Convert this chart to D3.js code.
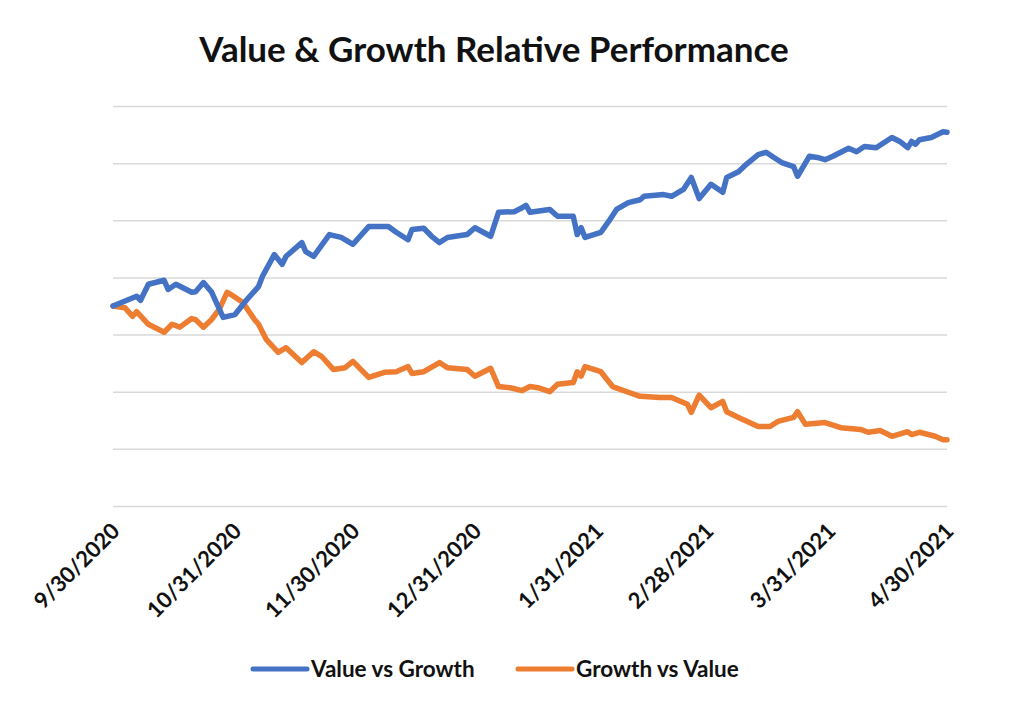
<!DOCTYPE html>
<html><head><meta charset="utf-8">
<script src="https://cdn.jsdelivr.net/npm/d3@7/dist/d3.min.js"></script>
<style>body{margin:0;background:#fff}svg{display:block}</style>
</head><body><svg id="c" width="1024" height="717"></svg>
<script>
const title = "Value & Growth Relative Performance";
const seriesNames = ["Value vs Growth", "Growth vs Value"];
const colors = ["#4472C4", "#ED7D31"];
const tickDates = ["2020-09-30","2020-10-31","2020-11-30","2020-12-31","2021-01-31","2021-02-28","2021-03-31","2021-04-30"];
const tickLabels = ["9/30/2020","10/31/2020","11/30/2020","12/31/2020","1/31/2021","2/28/2021","3/31/2021","4/30/2021"];
const gridValues = [65,75,85,95,105,115,125,135];

const valueDates = ["2020-09-30","2020-10-06","2020-10-07","2020-10-09","2020-10-13","2020-10-14","2020-10-16","2020-10-20","2020-10-21","2020-10-23","2020-10-25","2020-10-28","2020-10-31","2020-11-03","2020-11-06","2020-11-07","2020-11-10","2020-11-12","2020-11-13","2020-11-17","2020-11-18","2020-11-20","2020-11-24","2020-11-27","2020-11-30","2020-12-04","2020-12-09","2020-12-11","2020-12-14","2020-12-15","2020-12-18","2020-12-20","2020-12-22","2020-12-24","2020-12-29","2020-12-31","2021-01-04","2021-01-06","2021-01-10","2021-01-12","2021-01-13","2021-01-14","2021-01-19","2021-01-21","2021-01-25","2021-01-26","2021-01-27","2021-01-28","2021-02-01","2021-02-03","2021-02-05","2021-02-08","2021-02-11","2021-02-12","2021-02-17","2021-02-19","2021-02-22","2021-02-24","2021-02-26","2021-03-01","2021-03-04","2021-03-05","2021-03-08","2021-03-10","2021-03-13","2021-03-15","2021-03-17","2021-03-19","2021-03-22","2021-03-23","2021-03-26","2021-03-28","2021-03-30","2021-04-01","2021-04-05","2021-04-07","2021-04-09","2021-04-12","2021-04-16","2021-04-18","2021-04-20","2021-04-21","2021-04-22","2021-04-23","2021-04-26","2021-04-29","2021-04-30"];
const valueVsGrowth = [100.0,101.7,101.0,103.8,104.5,102.9,103.8,102.4,102.5,104.1,102.5,98.0,98.5,101.1,103.4,105.2,109.0,107.3,108.7,111.1,109.5,108.7,112.5,112.0,110.8,113.9,113.9,112.9,111.6,113.4,113.6,112.2,111.1,112.0,112.5,113.7,112.2,116.4,116.5,117.2,117.6,116.4,116.9,115.7,115.7,112.5,113.7,112.0,112.9,114.8,116.9,118.1,118.6,119.2,119.5,119.2,120.4,122.5,118.8,121.3,119.9,122.5,123.5,124.8,126.5,126.9,126.0,125.1,124.4,122.7,126.2,126.0,125.6,126.2,127.6,127.0,127.9,127.7,129.5,128.8,127.7,128.8,128.3,129.1,129.5,130.5,130.4];

const growthDates = ["2020-09-30","2020-10-03","2020-10-05","2020-10-06","2020-10-09","2020-10-13","2020-10-15","2020-10-17","2020-10-20","2020-10-21","2020-10-23","2020-10-25","2020-10-27","2020-10-29","2020-10-30","2020-11-02","2020-11-05","2020-11-06","2020-11-08","2020-11-11","2020-11-13","2020-11-17","2020-11-20","2020-11-22","2020-11-25","2020-11-28","2020-11-30","2020-12-04","2020-12-08","2020-12-11","2020-12-14","2020-12-15","2020-12-18","2020-12-22","2020-12-24","2020-12-29","2020-12-31","2021-01-04","2021-01-06","2021-01-09","2021-01-12","2021-01-14","2021-01-16","2021-01-19","2021-01-21","2021-01-25","2021-01-26","2021-01-27","2021-01-28","2021-02-01","2021-02-04","2021-02-08","2021-02-11","2021-02-16","2021-02-19","2021-02-23","2021-02-24","2021-02-26","2021-03-01","2021-03-04","2021-03-05","2021-03-08","2021-03-13","2021-03-16","2021-03-18","2021-03-22","2021-03-23","2021-03-25","2021-03-30","2021-04-03","2021-04-08","2021-04-10","2021-04-13","2021-04-16","2021-04-20","2021-04-21","2021-04-23","2021-04-27","2021-04-29","2021-04-30"];
const growthVsValue = [100.0,99.7,98.2,99.0,96.8,95.4,96.8,96.3,97.8,97.6,96.3,97.6,99.4,102.4,102.0,100.6,97.6,96.8,94.1,91.9,92.7,90.1,92.0,91.2,88.9,89.2,90.3,87.5,88.4,88.5,89.4,88.2,88.5,90.1,89.2,88.9,87.7,89.1,85.9,85.7,85.2,85.9,85.7,85.0,86.3,86.6,88.5,87.7,89.4,88.5,85.9,84.9,84.2,84.0,84.0,82.8,81.4,84.4,82.2,83.3,81.5,80.5,78.9,78.9,79.8,80.5,81.5,79.3,79.6,78.7,78.4,77.9,78.2,77.2,78.0,77.5,77.9,77.2,76.6,76.6];

const parse = d3.timeParse("%Y-%m-%d");
const svg = d3.select("#c");
const font = "Lato, 'Open Sans', sans-serif";
const plotL = 113, plotR = 947, plotT = 106, plotB = 506;

const x = d3.scaleTime().domain([parse(tickDates[0]), parse(tickDates[tickDates.length-1])]).range([plotL, plotR]);
const y = d3.scaleLinear().domain([65, 135]).range([plotB, plotT]);

svg.append("text").attr("x", 494).attr("y", 62).attr("text-anchor", "middle")
  .attr("font-family", font).attr("font-weight", "bold").attr("font-size", 35).attr("fill", "#111")
  .text(title);

// gridlines
svg.append("g").attr("transform", `translate(${plotL},0)`)
  .call(d3.axisLeft(y).tickValues(gridValues).tickSize(-(plotR - plotL)).tickFormat(""))
  .call(g => g.select(".domain").remove())
  .call(g => g.selectAll("line").attr("stroke", "#d9d9d9").attr("stroke-width", 1.5));

// x axis labels
const xa = svg.append("g").attr("transform", `translate(0,${plotB})`)
  .call(d3.axisBottom(x).tickValues(tickDates.map(parse)).tickSize(0).tickFormat((d, i) => tickLabels[i]));
xa.select(".domain").remove();
xa.selectAll("text")
  .attr("font-family", font).attr("font-weight", "bold").attr("font-size", 22).attr("fill", "#111")
  .attr("text-anchor", "end").attr("y", 0).attr("dy", "0.35em")
  .attr("transform", "translate(2,21) rotate(-45)");

const line = d3.line().x(d => x(d[0])).y(d => y(d[1])).curve(d3.curveLinear);
const sets = [
  valueDates.map((d, i) => [parse(d), valueVsGrowth[i]]),
  growthDates.map((d, i) => [parse(d), growthVsValue[i]])
];
[1, 0].forEach(k => {
  svg.append("path").datum(sets[k]).attr("d", line)
    .attr("fill", "none").attr("stroke", colors[k]).attr("stroke-width", 5.5)
    .attr("stroke-linejoin", "round").attr("stroke-linecap", "round");
});

// legend
const lg = [{x: 253, tx: 311}, {x: 518, tx: 576}];
seriesNames.forEach((n, i) => {
  svg.append("line").attr("x1", lg[i].x).attr("x2", lg[i].x + 54).attr("y1", 669).attr("y2", 669)
    .attr("stroke", colors[i]).attr("stroke-width", 5).attr("stroke-linecap", "round");
  svg.append("text").attr("x", lg[i].tx).attr("y", 669).attr("dy", "0.35em")
    .attr("font-family", font).attr("font-weight", "bold").attr("font-size", 22.5).attr("fill", "#111").text(n);
});
</script></body></html>
